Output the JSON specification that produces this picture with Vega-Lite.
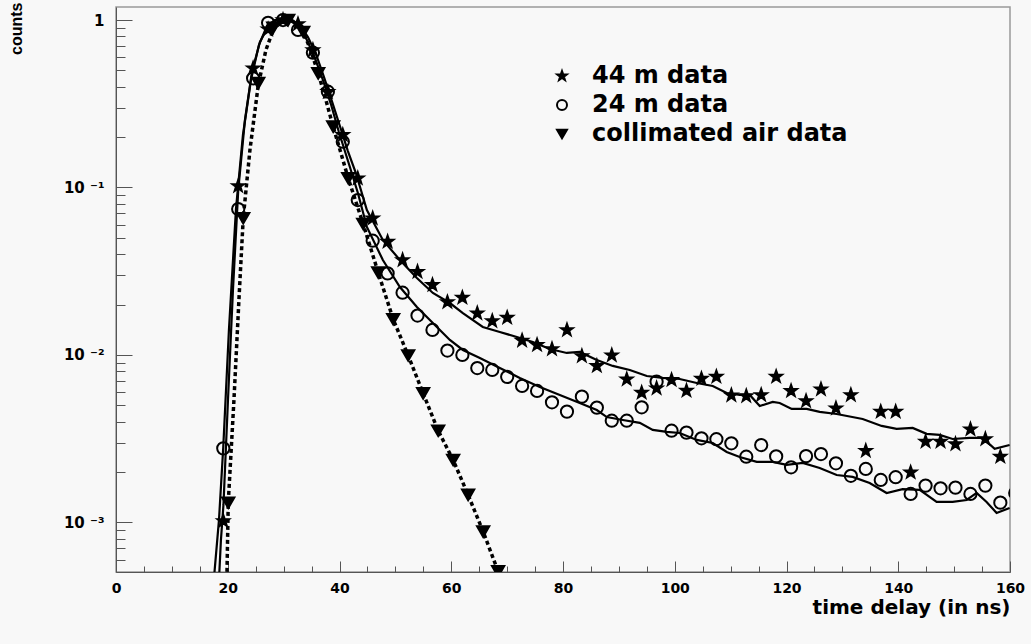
{
  "$schema": "https://vega.github.io/schema/vega-lite/v6.json",
  "width": 894,
  "height": 565,
  "autosize": {"type": "none"},
  "padding": {"left": 116, "top": 7, "right": 21, "bottom": 72},
  "background": "#f8f8f8",
  "config": {"view": {"stroke": "#999999", "strokeWidth": 1.5}, "font": "DejaVu Sans"},
  "datasets": {
    "points": [
      {"series": "44 m data", "t": 19.2, "v": 0.00102},
      {"series": "44 m data", "t": 21.87, "v": 0.102},
      {"series": "44 m data", "t": 24.54, "v": 0.515},
      {"series": "44 m data", "t": 27.22, "v": 0.88},
      {"series": "44 m data", "t": 29.89, "v": 1.0},
      {"series": "44 m data", "t": 32.57, "v": 0.946},
      {"series": "44 m data", "t": 35.24, "v": 0.662},
      {"series": "44 m data", "t": 37.92, "v": 0.372},
      {"series": "44 m data", "t": 40.59, "v": 0.206},
      {"series": "44 m data", "t": 43.27, "v": 0.1135},
      {"series": "44 m data", "t": 45.94, "v": 0.0655},
      {"series": "44 m data", "t": 48.61, "v": 0.0475},
      {"series": "44 m data", "t": 51.29, "v": 0.0369},
      {"series": "44 m data", "t": 53.96, "v": 0.0314},
      {"series": "44 m data", "t": 56.64, "v": 0.0262},
      {"series": "44 m data", "t": 59.31, "v": 0.0207},
      {"series": "44 m data", "t": 61.99, "v": 0.022},
      {"series": "44 m data", "t": 64.66, "v": 0.01775},
      {"series": "44 m data", "t": 67.34, "v": 0.01596},
      {"series": "44 m data", "t": 70.01, "v": 0.0167},
      {"series": "44 m data", "t": 72.68, "v": 0.0122},
      {"series": "44 m data", "t": 75.36, "v": 0.01148},
      {"series": "44 m data", "t": 78.03, "v": 0.01086},
      {"series": "44 m data", "t": 80.71, "v": 0.0141},
      {"series": "44 m data", "t": 83.38, "v": 0.00986},
      {"series": "44 m data", "t": 86.06, "v": 0.0086},
      {"series": "44 m data", "t": 88.73, "v": 0.00996},
      {"series": "44 m data", "t": 91.41, "v": 0.00716},
      {"series": "44 m data", "t": 94.08, "v": 0.00596},
      {"series": "44 m data", "t": 96.75, "v": 0.00633},
      {"series": "44 m data", "t": 99.43, "v": 0.0071},
      {"series": "44 m data", "t": 102.1, "v": 0.00612},
      {"series": "44 m data", "t": 104.78, "v": 0.00722},
      {"series": "44 m data", "t": 107.45, "v": 0.00742},
      {"series": "44 m data", "t": 110.13, "v": 0.00575},
      {"series": "44 m data", "t": 112.8, "v": 0.00569},
      {"series": "44 m data", "t": 115.47, "v": 0.00577},
      {"series": "44 m data", "t": 118.15, "v": 0.00742},
      {"series": "44 m data", "t": 120.82, "v": 0.0061},
      {"series": "44 m data", "t": 123.5, "v": 0.00531},
      {"series": "44 m data", "t": 126.17, "v": 0.00624},
      {"series": "44 m data", "t": 128.85, "v": 0.00481},
      {"series": "44 m data", "t": 131.52, "v": 0.00577},
      {"series": "44 m data", "t": 134.19, "v": 0.00268},
      {"series": "44 m data", "t": 136.87, "v": 0.00459},
      {"series": "44 m data", "t": 139.54, "v": 0.00459},
      {"series": "44 m data", "t": 142.22, "v": 0.00199},
      {"series": "44 m data", "t": 144.89, "v": 0.00304},
      {"series": "44 m data", "t": 147.57, "v": 0.00304},
      {"series": "44 m data", "t": 150.24, "v": 0.00294},
      {"series": "44 m data", "t": 152.92, "v": 0.0036},
      {"series": "44 m data", "t": 155.59, "v": 0.00315},
      {"series": "44 m data", "t": 158.27, "v": 0.00247},
      {"series": "24 m data", "t": 19.2, "v": 0.00277},
      {"series": "24 m data", "t": 21.87, "v": 0.0744},
      {"series": "24 m data", "t": 24.54, "v": 0.449},
      {"series": "24 m data", "t": 27.22, "v": 0.963},
      {"series": "24 m data", "t": 29.89, "v": 1.0},
      {"series": "24 m data", "t": 32.57, "v": 0.872},
      {"series": "24 m data", "t": 35.24, "v": 0.638},
      {"series": "24 m data", "t": 37.92, "v": 0.373},
      {"series": "24 m data", "t": 40.59, "v": 0.1877},
      {"series": "24 m data", "t": 43.27, "v": 0.0842},
      {"series": "24 m data", "t": 45.94, "v": 0.0481},
      {"series": "24 m data", "t": 48.61, "v": 0.0307},
      {"series": "24 m data", "t": 51.29, "v": 0.02355},
      {"series": "24 m data", "t": 53.96, "v": 0.0172},
      {"series": "24 m data", "t": 56.64, "v": 0.0141},
      {"series": "24 m data", "t": 59.31, "v": 0.01063},
      {"series": "24 m data", "t": 61.99, "v": 0.01},
      {"series": "24 m data", "t": 64.66, "v": 0.00836},
      {"series": "24 m data", "t": 67.34, "v": 0.00814},
      {"series": "24 m data", "t": 70.01, "v": 0.0074},
      {"series": "24 m data", "t": 72.68, "v": 0.00653},
      {"series": "24 m data", "t": 75.36, "v": 0.0061},
      {"series": "24 m data", "t": 78.03, "v": 0.00522},
      {"series": "24 m data", "t": 80.71, "v": 0.00459},
      {"series": "24 m data", "t": 83.38, "v": 0.00564},
      {"series": "24 m data", "t": 86.06, "v": 0.00485},
      {"series": "24 m data", "t": 88.73, "v": 0.00405},
      {"series": "24 m data", "t": 91.41, "v": 0.00405},
      {"series": "24 m data", "t": 94.08, "v": 0.00487},
      {"series": "24 m data", "t": 96.75, "v": 0.00693},
      {"series": "24 m data", "t": 99.43, "v": 0.00353},
      {"series": "24 m data", "t": 102.1, "v": 0.00344},
      {"series": "24 m data", "t": 104.78, "v": 0.00318},
      {"series": "24 m data", "t": 107.45, "v": 0.00314},
      {"series": "24 m data", "t": 110.13, "v": 0.00297},
      {"series": "24 m data", "t": 112.8, "v": 0.00247},
      {"series": "24 m data", "t": 115.47, "v": 0.0029},
      {"series": "24 m data", "t": 118.15, "v": 0.00248},
      {"series": "24 m data", "t": 120.82, "v": 0.002135},
      {"series": "24 m data", "t": 123.5, "v": 0.00249},
      {"series": "24 m data", "t": 126.17, "v": 0.00256},
      {"series": "24 m data", "t": 128.85, "v": 0.002256},
      {"series": "24 m data", "t": 131.52, "v": 0.0019},
      {"series": "24 m data", "t": 134.19, "v": 0.002087},
      {"series": "24 m data", "t": 136.87, "v": 0.001794},
      {"series": "24 m data", "t": 139.54, "v": 0.001862},
      {"series": "24 m data", "t": 142.22, "v": 0.00148},
      {"series": "24 m data", "t": 144.89, "v": 0.00166},
      {"series": "24 m data", "t": 147.57, "v": 0.0016},
      {"series": "24 m data", "t": 150.24, "v": 0.001614},
      {"series": "24 m data", "t": 152.92, "v": 0.00148},
      {"series": "24 m data", "t": 155.59, "v": 0.00166},
      {"series": "24 m data", "t": 158.27, "v": 0.001313},
      {"series": "24 m data", "t": 160.94, "v": 0.0015},
      {"series": "collimated air data", "t": 20.09, "v": 0.00131},
      {"series": "collimated air data", "t": 22.77, "v": 0.0655},
      {"series": "collimated air data", "t": 25.46, "v": 0.42},
      {"series": "collimated air data", "t": 28.14, "v": 0.9},
      {"series": "collimated air data", "t": 30.82, "v": 1.0},
      {"series": "collimated air data", "t": 33.51, "v": 0.848},
      {"series": "collimated air data", "t": 36.19, "v": 0.48},
      {"series": "collimated air data", "t": 38.87, "v": 0.231},
      {"series": "collimated air data", "t": 41.56, "v": 0.1135},
      {"series": "collimated air data", "t": 44.24, "v": 0.0605},
      {"series": "collimated air data", "t": 46.92, "v": 0.0311},
      {"series": "collimated air data", "t": 49.61, "v": 0.01633},
      {"series": "collimated air data", "t": 52.29, "v": 0.00993},
      {"series": "collimated air data", "t": 54.97, "v": 0.0059},
      {"series": "collimated air data", "t": 57.66, "v": 0.00353},
      {"series": "collimated air data", "t": 60.34, "v": 0.00236},
      {"series": "collimated air data", "t": 63.02, "v": 0.00146},
      {"series": "collimated air data", "t": 65.71, "v": 0.000881},
      {"series": "collimated air data", "t": 68.39, "v": 0.00051}
    ],
    "fits": [
      {"curve": "44 m", "t": 18.34, "v": 0.000395},
      {"curve": "44 m", "t": 18.78, "v": 0.000786},
      {"curve": "44 m", "t": 19.23, "v": 0.001272},
      {"curve": "44 m", "t": 20.04, "v": 0.00539},
      {"curve": "44 m", "t": 20.93, "v": 0.0244},
      {"curve": "44 m", "t": 21.88, "v": 0.0966},
      {"curve": "44 m", "t": 23.08, "v": 0.253},
      {"curve": "44 m", "t": 24.33, "v": 0.489},
      {"curve": "44 m", "t": 25.76, "v": 0.739},
      {"curve": "44 m", "t": 27.19, "v": 0.908},
      {"curve": "44 m", "t": 28.62, "v": 0.995},
      {"curve": "44 m", "t": 30.05, "v": 1.02},
      {"curve": "44 m", "t": 31.48, "v": 1.0},
      {"curve": "44 m", "t": 32.92, "v": 0.934},
      {"curve": "44 m", "t": 34.35, "v": 0.792},
      {"curve": "44 m", "t": 35.78, "v": 0.627},
      {"curve": "44 m", "t": 37.21, "v": 0.457},
      {"curve": "44 m", "t": 38.64, "v": 0.328},
      {"curve": "44 m", "t": 40.07, "v": 0.233},
      {"curve": "44 m", "t": 41.5, "v": 0.165},
      {"curve": "44 m", "t": 42.93, "v": 0.122},
      {"curve": "44 m", "t": 44.9, "v": 0.0734},
      {"curve": "44 m", "t": 47.76, "v": 0.0486},
      {"curve": "44 m", "t": 50.81, "v": 0.0369},
      {"curve": "44 m", "t": 53.85, "v": 0.0288},
      {"curve": "44 m", "t": 56.71, "v": 0.02345},
      {"curve": "44 m", "t": 59.75, "v": 0.02043},
      {"curve": "44 m", "t": 62.08, "v": 0.0178},
      {"curve": "44 m", "t": 65.65, "v": 0.01469},
      {"curve": "44 m", "t": 68.69, "v": 0.01372},
      {"curve": "44 m", "t": 71.74, "v": 0.0128},
      {"curve": "44 m", "t": 74.6, "v": 0.01196},
      {"curve": "44 m", "t": 77.64, "v": 0.01086},
      {"curve": "44 m", "t": 80.68, "v": 0.01028},
      {"curve": "44 m", "t": 83.0, "v": 0.01042},
      {"curve": "44 m", "t": 86.05, "v": 0.00934},
      {"curve": "44 m", "t": 88.91, "v": 0.0086},
      {"curve": "44 m", "t": 91.95, "v": 0.00814},
      {"curve": "44 m", "t": 95.0, "v": 0.00749},
      {"curve": "44 m", "t": 97.85, "v": 0.00729},
      {"curve": "44 m", "t": 100.89, "v": 0.00719},
      {"curve": "44 m", "t": 103.94, "v": 0.0068},
      {"curve": "44 m", "t": 106.8, "v": 0.00653},
      {"curve": "44 m", "t": 109.3, "v": 0.00593},
      {"curve": "44 m", "t": 111.63, "v": 0.00577},
      {"curve": "44 m", "t": 113.42, "v": 0.00577},
      {"curve": "44 m", "t": 115.21, "v": 0.00496},
      {"curve": "44 m", "t": 117.53, "v": 0.00524},
      {"curve": "44 m", "t": 118.78, "v": 0.00517},
      {"curve": "44 m", "t": 120.93, "v": 0.00476},
      {"curve": "44 m", "t": 123.61, "v": 0.00476},
      {"curve": "44 m", "t": 125.94, "v": 0.00457},
      {"curve": "44 m", "t": 128.98, "v": 0.00444},
      {"curve": "44 m", "t": 133.63, "v": 0.00415},
      {"curve": "44 m", "t": 137.03, "v": 0.00377},
      {"curve": "44 m", "t": 139.71, "v": 0.00362},
      {"curve": "44 m", "t": 142.58, "v": 0.00367},
      {"curve": "44 m", "t": 145.08, "v": 0.00338},
      {"curve": "44 m", "t": 147.41, "v": 0.00333},
      {"curve": "44 m", "t": 149.73, "v": 0.00315},
      {"curve": "44 m", "t": 152.77, "v": 0.0032},
      {"curve": "44 m", "t": 155.1, "v": 0.0032},
      {"curve": "44 m", "t": 157.25, "v": 0.00275},
      {"curve": "44 m", "t": 159.93, "v": 0.0029},
      {"curve": "24 m", "t": 17.35, "v": 0.000395},
      {"curve": "24 m", "t": 18.43, "v": 0.001035},
      {"curve": "24 m", "t": 19.19, "v": 0.002786},
      {"curve": "24 m", "t": 20.21, "v": 0.0141},
      {"curve": "24 m", "t": 21.47, "v": 0.0744},
      {"curve": "24 m", "t": 22.72, "v": 0.2058},
      {"curve": "24 m", "t": 24.15, "v": 0.4384},
      {"curve": "24 m", "t": 25.58, "v": 0.709},
      {"curve": "24 m", "t": 27.01, "v": 0.921},
      {"curve": "24 m", "t": 28.44, "v": 1.0},
      {"curve": "24 m", "t": 29.87, "v": 1.02},
      {"curve": "24 m", "t": 31.31, "v": 1.0},
      {"curve": "24 m", "t": 32.74, "v": 0.908},
      {"curve": "24 m", "t": 34.17, "v": 0.76},
      {"curve": "24 m", "t": 35.6, "v": 0.593},
      {"curve": "24 m", "t": 37.03, "v": 0.4384},
      {"curve": "24 m", "t": 38.46, "v": 0.315},
      {"curve": "24 m", "t": 39.89, "v": 0.2145},
      {"curve": "24 m", "t": 41.86, "v": 0.1326},
      {"curve": "24 m", "t": 43.29, "v": 0.0927},
      {"curve": "24 m", "t": 44.9, "v": 0.0581},
      {"curve": "24 m", "t": 47.76, "v": 0.0369},
      {"curve": "24 m", "t": 50.81, "v": 0.02547},
      {"curve": "24 m", "t": 53.85, "v": 0.01934},
      {"curve": "24 m", "t": 56.71, "v": 0.01553},
      {"curve": "24 m", "t": 59.75, "v": 0.01229},
      {"curve": "24 m", "t": 62.08, "v": 0.01071},
      {"curve": "24 m", "t": 65.12, "v": 0.0096},
      {"curve": "24 m", "t": 68.69, "v": 0.00836},
      {"curve": "24 m", "t": 72.27, "v": 0.00729},
      {"curve": "24 m", "t": 75.85, "v": 0.00644},
      {"curve": "24 m", "t": 79.43, "v": 0.00577},
      {"curve": "24 m", "t": 83.0, "v": 0.00517},
      {"curve": "24 m", "t": 86.05, "v": 0.00469},
      {"curve": "24 m", "t": 87.84, "v": 0.00426},
      {"curve": "24 m", "t": 90.7, "v": 0.00409},
      {"curve": "24 m", "t": 93.74, "v": 0.00393},
      {"curve": "24 m", "t": 96.06, "v": 0.00357},
      {"curve": "24 m", "t": 98.57, "v": 0.00347},
      {"curve": "24 m", "t": 100.89, "v": 0.00342},
      {"curve": "24 m", "t": 103.94, "v": 0.00311},
      {"curve": "24 m", "t": 106.8, "v": 0.00298},
      {"curve": "24 m", "t": 109.3, "v": 0.002636},
      {"curve": "24 m", "t": 111.63, "v": 0.00246},
      {"curve": "24 m", "t": 114.67, "v": 0.0023},
      {"curve": "24 m", "t": 117.53, "v": 0.0023},
      {"curve": "24 m", "t": 120.04, "v": 0.002205},
      {"curve": "24 m", "t": 122.9, "v": 0.002266},
      {"curve": "24 m", "t": 125.94, "v": 0.002115},
      {"curve": "24 m", "t": 128.98, "v": 0.00192},
      {"curve": "24 m", "t": 131.84, "v": 0.00187},
      {"curve": "24 m", "t": 134.88, "v": 0.00172},
      {"curve": "24 m", "t": 137.92, "v": 0.0015},
      {"curve": "24 m", "t": 140.79, "v": 0.00158},
      {"curve": "24 m", "t": 143.83, "v": 0.001564},
      {"curve": "24 m", "t": 146.87, "v": 0.001326},
      {"curve": "24 m", "t": 149.73, "v": 0.001326},
      {"curve": "24 m", "t": 152.24, "v": 0.001362},
      {"curve": "24 m", "t": 154.03, "v": 0.0015},
      {"curve": "24 m", "t": 155.81, "v": 0.001326},
      {"curve": "24 m", "t": 157.6, "v": 0.00114},
      {"curve": "24 m", "t": 159.93, "v": 0.00122},
      {"curve": "collimated", "t": 19.77, "v": 0.000345},
      {"curve": "collimated", "t": 20.09, "v": 0.00131},
      {"curve": "collimated", "t": 21.11, "v": 0.00539},
      {"curve": "collimated", "t": 22.0, "v": 0.0213},
      {"curve": "collimated", "t": 22.77, "v": 0.0655},
      {"curve": "collimated", "t": 23.97, "v": 0.1675},
      {"curve": "collimated", "t": 25.46, "v": 0.409},
      {"curve": "collimated", "t": 26.83, "v": 0.662},
      {"curve": "collimated", "t": 28.14, "v": 0.872},
      {"curve": "collimated", "t": 29.34, "v": 0.986},
      {"curve": "collimated", "t": 30.82, "v": 1.0},
      {"curve": "collimated", "t": 32.2, "v": 0.973},
      {"curve": "collimated", "t": 33.51, "v": 0.848},
      {"curve": "collimated", "t": 34.7, "v": 0.681},
      {"curve": "collimated", "t": 36.19, "v": 0.482},
      {"curve": "collimated", "t": 37.57, "v": 0.333},
      {"curve": "collimated", "t": 38.87, "v": 0.23},
      {"curve": "collimated", "t": 40.25, "v": 0.1607},
      {"curve": "collimated", "t": 41.56, "v": 0.1135},
      {"curve": "collimated", "t": 44.24, "v": 0.0605},
      {"curve": "collimated", "t": 46.92, "v": 0.0311},
      {"curve": "collimated", "t": 49.61, "v": 0.01633},
      {"curve": "collimated", "t": 52.29, "v": 0.00993},
      {"curve": "collimated", "t": 54.97, "v": 0.0059},
      {"curve": "collimated", "t": 57.66, "v": 0.00353},
      {"curve": "collimated", "t": 60.34, "v": 0.00236},
      {"curve": "collimated", "t": 63.02, "v": 0.00146},
      {"curve": "collimated", "t": 65.71, "v": 0.000881},
      {"curve": "collimated", "t": 68.39, "v": 0.00051},
      {"curve": "collimated", "t": 69.59, "v": 0.000369}
    ]
  },
  "resolve": {"axis": {"x": "independent", "y": "independent"}},
  "layer": [
    {
      "data": {"name": "fits"},
      "transform": [{"filter": "datum.curve !== 'collimated'"}],
      "mark": {"type": "line", "clip": true, "color": "black", "strokeWidth": 2.2},
      "encoding": {
        "x": {
          "field": "t",
          "type": "quantitative",
          "scale": {"domain": [0, 160], "nice": false, "zero": false},
          "axis": {
            "orient": "bottom",
            "values": [0, 20, 40, 60, 80, 100, 120, 140, 160],
            "tickSize": -11,
            "tickColor": "#555555",
            "domainColor": "#555555",
            "grid": false,
            "labelFlush": false,
            "labelOverlap": false,
            "labelFont": "DejaVu Sans",
            "labelFontWeight": "bold",
            "labelFontSize": 14,
            "labelColor": "black",
            "labelPadding": 20,
            "title": "time delay (in ns)",
            "titleFont": "DejaVu Sans",
            "titleFontWeight": "bold",
            "titleFontSize": 20,
            "titleColor": "black",
            "titleAnchor": "end",
            "titleAlign": "right",
            "titleX": 894,
            "titleY": 41,
            "titleBaseline": "alphabetic"
          }
        },
        "y": {
          "field": "v",
          "type": "quantitative",
          "scale": {"type": "log", "domain": [0.000506, 1.196], "nice": false},
          "axis": {
            "orient": "left",
            "values": [0.001, 0.01, 0.1, 1],
            "labelExpr": "datum.value === 1 ? '1' : datum.value === 0.1 ? '10 ⁻¹' : datum.value === 0.01 ? '10 ⁻²' : '10 ⁻³'",
            "tickSize": -16,
            "tickColor": "#555555",
            "domainColor": "#555555",
            "grid": false,
            "labelOverlap": false,
            "labelFlush": false,
            "labelFont": "DejaVu Sans",
            "labelFontWeight": "bold",
            "labelFontSize": 15,
            "labelColor": "black",
            "labelPadding": 28,
            "title": "counts",
            "titleFont": "Liberation Sans",
            "titleFontWeight": "bold",
            "titleFontSize": 16,
            "titleColor": "black",
            "titleAngle": -90,
            "titleAlign": "right",
            "titleBaseline": "top",
            "titleX": -108,
            "titleY": -5
          }
        },
        "detail": {"field": "curve", "type": "nominal"}
      }
    },
    {
      "data": {"name": "fits"},
      "transform": [{"filter": "datum.curve === 'collimated'"}],
      "mark": {"type": "line", "clip": true, "color": "black", "strokeWidth": 3.5, "strokeDash": [4, 3]},
      "encoding": {
        "x": {
          "field": "t",
          "type": "quantitative",
          "axis": {
            "orient": "bottom",
            "values": [5,10,15,25,30,35,45,50,55,65,70,75,85,90,95,105,110,115,125,130,135,145,150,155],
            "tickSize": -6,
            "tickColor": "#555555",
            "domain": false,
            "grid": false,
            "labels": false,
            "title": null
          }
        },
        "y": {
          "field": "v",
          "type": "quantitative",
          "axis": {
            "orient": "left",
            "values": [0.0006,0.0007,0.0008,0.0009,0.002,0.003,0.004,0.005,0.006,0.007,0.008,0.009,0.02,0.03,0.04,0.05,0.06,0.07,0.08,0.09,0.2,0.3,0.4,0.5,0.6,0.7,0.8,0.9],
            "tickSize": -9,
            "tickColor": "#555555",
            "domain": false,
            "grid": false,
            "labels": false,
            "title": null
          }
        }
      }
    },
    {
      "data": {"name": "points"},
      "mark": {"type": "point", "filled": true, "strokeWidth": 2, "opacity": 1, "size": 150, "clip": true},
      "encoding": {
        "x": {"field": "t", "type": "quantitative", "axis": null},
        "y": {"field": "v", "type": "quantitative", "axis": null},
        "shape": {
          "field": "series",
          "type": "nominal",
          "scale": {"domain": ["44 m data", "24 m data", "collimated air data"], "range": ["M0,-1L0.235,-0.324L0.951,-0.309L0.38,0.124L0.588,0.809L0,0.4L-0.588,0.809L-0.38,0.124L-0.951,-0.309L-0.235,-0.324Z", "circle", "triangle-down"]},
          "legend": {
            "title": null,
            "orient": "none",
            "legendX": 434,
            "legendY": 57,
            "labelFont": "DejaVu Sans",
            "labelFontWeight": "bold",
            "labelFontSize": 24,
            "labelColor": "black",
            "labelLimit": 500,
            "labelOffset": 18,
            "rowPadding": 5,
            "symbolSize": 100,
            "symbolStrokeWidth": 2
          }
        },
        "fill": {
          "field": "series",
          "type": "nominal",
          "scale": {"domain": ["44 m data", "24 m data", "collimated air data"], "range": ["black", "transparent", "black"]},
          "legend": {
            "title": null,
            "orient": "none",
            "legendX": 434,
            "legendY": 57,
            "labelFont": "DejaVu Sans",
            "labelFontWeight": "bold",
            "labelFontSize": 24,
            "labelColor": "black",
            "labelLimit": 500,
            "labelOffset": 18,
            "rowPadding": 5,
            "symbolSize": 100,
            "symbolStrokeWidth": 2
          }
        },
        "stroke": {
          "field": "series",
          "type": "nominal",
          "scale": {"domain": ["44 m data", "24 m data", "collimated air data"], "range": ["black", "black", "black"]},
          "legend": {
            "title": null,
            "orient": "none",
            "legendX": 434,
            "legendY": 57,
            "labelFont": "DejaVu Sans",
            "labelFontWeight": "bold",
            "labelFontSize": 24,
            "labelColor": "black",
            "labelLimit": 500,
            "labelOffset": 18,
            "rowPadding": 5,
            "symbolSize": 100,
            "symbolStrokeWidth": 2
          }
        }
      }
    }
  ]
}
